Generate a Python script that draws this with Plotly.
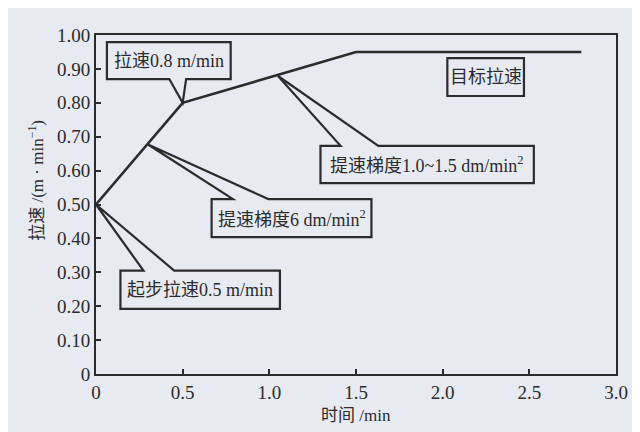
import plotly.graph_objects as go

# data
time_min = [0, 0.5, 1.5, 2.8]
speed = [0.50, 0.80, 0.95, 0.95]
x_ticks = [0, 0.5, 1.0, 1.5, 2.0, 2.5, 3.0]
x_tick_labels = ["0", "0.5", "1.0", "1.5", "2.0", "2.5", "3.0"]
y_ticks = [0, 0.1, 0.2, 0.3, 0.4, 0.5, 0.6, 0.7, 0.8, 0.9, 1.0]
y_tick_labels = ["0", "0.10", "0.20", "0.30", "0.40", "0.50", "0.60", "0.70", "0.80", "0.90", "1.00"]

# callouts: text, box (x0, x1, y0 bottom, y1 top), pointer side, pointer base xs, tip
callouts = [
    ("拉速0.8 m/min", (0.063, 0.777, 0.870, 0.979), "bottom", (0.423, 0.52), (0.5, 0.8)),
    ("目标拉速", (2.027, 2.469, 0.820, 0.932), None, None, None),
    ("提速梯度1.0~1.5 dm/min<sup>2</sup>", (1.295, 2.526, 0.563, 0.673), "top", (1.411, 1.629), (1.05, 0.879)),
    ("提速梯度6 dm/min<sup>2</sup>", (0.667, 1.589, 0.404, 0.516), "top", (0.790, 0.994), (0.30, 0.677)),
    ("起步拉速0.5 m/min", (0.141, 1.061, 0.192, 0.305), "top", (0.274, 0.451), (0.0, 0.5)),
]

BG = "#e8eaf1"
INK = "#2b2b2b"
FONT = '"Liberation Serif", "Times New Roman", "Noto Sans CJK SC", serif'

fig = go.Figure()
fig.add_trace(go.Scatter(x=time_min, y=speed, mode="lines",
                         line=dict(color=INK, width=2.6), showlegend=False,
                         hoverinfo="skip"))

shapes = []
annotations = []
for text, (x0, x1, y0, y1), side, base, tip in callouts:
    if side is None:
        path = f"M{x0},{y0} L{x0},{y1} L{x1},{y1} L{x1},{y0} Z"
    elif side == "bottom":
        path = (f"M{x0},{y0} L{x0},{y1} L{x1},{y1} L{x1},{y0} "
                f"L{base[1]},{y0} L{tip[0]},{tip[1]} L{base[0]},{y0} Z")
    else:
        path = (f"M{x0},{y0} L{x0},{y1} L{base[0]},{y1} L{tip[0]},{tip[1]} "
                f"L{base[1]},{y1} L{x1},{y1} L{x1},{y0} Z")
    shapes.append(dict(type="path", path=path, xref="x", yref="y",
                       fillcolor=BG, line=dict(color=INK, width=2.2), layer="above"))
    annotations.append(dict(x=(x0 + x1) / 2, y=(y0 + y1) / 2, xref="x", yref="y",
                            text=text, showarrow=False,
                            font=dict(family=FONT, size=18, color=INK),
                            xanchor="center", yanchor="middle"))

annotations.append(dict(x=-0.116, y=0.572, xref="paper", yref="paper",
                        text="拉速 /(m · min<sup>−1</sup>)", textangle=-90, showarrow=False,
                        font=dict(family=FONT, size=17, color=INK),
                        xanchor="center", yanchor="middle"))
annotations.append(dict(x=0.5, y=-0.121, xref="paper", yref="paper",
                        text="时间 /min", showarrow=False,
                        font=dict(family=FONT, size=17, color=INK),
                        xanchor="center", yanchor="middle"))

fig.update_layout(
    width=632, height=424,
    margin=dict(l=88, r=19, t=27, b=58),
    paper_bgcolor=BG, plot_bgcolor=BG,
    shapes=shapes, annotations=annotations,
    font=dict(family=FONT, size=18, color=INK),
    xaxis=dict(range=[0, 3], tickvals=x_ticks, ticktext=x_tick_labels,
               showgrid=False, zeroline=False, showline=True, linecolor=INK,
               linewidth=2, mirror=True, ticks="inside", ticklen=5,
               tickwidth=2, tickcolor=INK, tickfont=dict(size=19)),
    yaxis=dict(range=[0, 1], tickvals=y_ticks, ticktext=y_tick_labels,
               showgrid=False, zeroline=False, showline=True, linecolor=INK,
               linewidth=2, mirror=True, ticks="inside", ticklen=5,
               tickwidth=2, tickcolor=INK, tickfont=dict(size=19)),
)

fig.write_html("out.html")
